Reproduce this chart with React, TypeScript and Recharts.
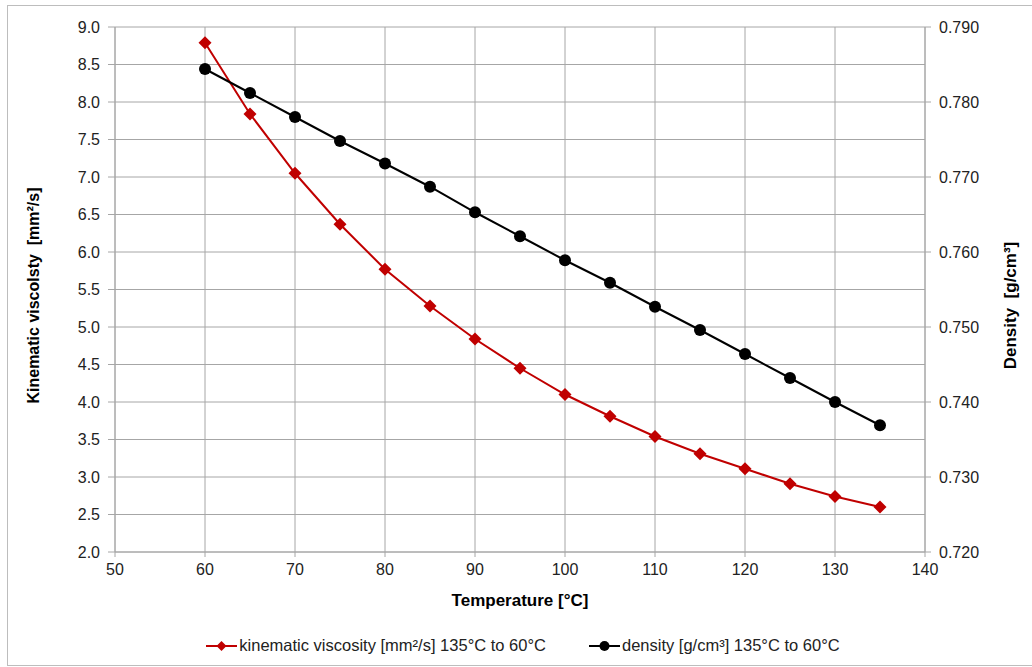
import React from "react";
import { CartesianGrid, Legend, Line, LineChart, XAxis, YAxis } from "recharts";

const temperatures = [60, 65, 70, 75, 80, 85, 90, 95, 100, 105, 110, 115, 120, 125, 130, 135];
const viscosity = [8.79, 7.84, 7.05, 6.37, 5.77, 5.28, 4.84, 4.45, 4.1, 3.81, 3.54, 3.31, 3.11, 2.91, 2.74, 2.6];
const density = [
  0.7844, 0.7812, 0.778, 0.7748, 0.7718, 0.7687, 0.7653, 0.7621, 0.7589, 0.7559, 0.7527, 0.7496, 0.7464, 0.7432,
  0.74, 0.7369,
];

const xTicks = [50, 60, 70, 80, 90, 100, 110, 120, 130, 140];
const leftTicks = [2, 2.5, 3, 3.5, 4, 4.5, 5, 5.5, 6, 6.5, 7, 7.5, 8, 8.5, 9];
const rightTicks = [0.72, 0.73, 0.74, 0.75, 0.76, 0.77, 0.78, 0.79];

const viscosityName = "kinematic viscosity [mm²/s] 135°C to 60°C";
const densityName = "density [g/cm³] 135°C to 60°C";

const data = temperatures.map((t, i) => ({ t, viscosity: viscosity[i], density: density[i] }));

const RED = "#c00000";
const GRID = "#a6a6a6";
const FONT = "'Liberation Sans', Arial, sans-serif";

function Diamond(props: any) {
  const { cx, cy } = props;
  if (cx == null || cy == null) return null;
  const r = 6.5;
  return <path d={`M${cx},${cy - r}L${cx + r},${cy}L${cx},${cy + r}L${cx - r},${cy}Z`} fill={RED} />;
}

function Circle(props: any) {
  const { cx, cy } = props;
  if (cx == null || cy == null) return null;
  return <circle cx={cx} cy={cy} r={6} fill="#000" />;
}

function VerticalTitle({ x, y, text, size }: { x: number; y: number; text: string; size: number }) {
  return (
    <text
      x={x}
      y={y}
      transform={`rotate(-90 ${x} ${y})`}
      textAnchor="middle"
      dominantBaseline="central"
      fontSize={size}
      fontWeight="bold"
      fill="#000"
      fontFamily={FONT}
      style={{ whiteSpace: "pre" }}
    >
      {text}
    </text>
  );
}

function LegendContent() {
  const item = (color: string, marker: "diamond" | "circle", label: string, gap: number) => (
    <span style={{ display: "inline-flex", alignItems: "center", marginRight: gap }}>
      <svg width={31} height={14} style={{ marginRight: 2 }}>
        <line x1={0} y1={7} x2={31} y2={7} stroke={color} strokeWidth={2} />
        {marker === "diamond" ? (
          <path d="M15.5,2L20.5,7L15.5,12L10.5,7Z" fill={color} />
        ) : (
          <circle cx={15.5} cy={7} r={5} fill={color} />
        )}
      </svg>
      <span>{label}</span>
    </span>
  );
  return (
    <div
      style={{
        display: "flex",
        justifyContent: "center",
        paddingLeft: 14,
        paddingTop: 7,
        fontFamily: FONT,
        fontSize: 16.5,
        color: "#222",
      }}
    >
      {item(RED, "diamond", viscosityName, 43)}
      {item("#000", "circle", densityName, 0)}
    </div>
  );
}

export default function App() {
  return (
    <div style={{ position: "absolute", left: 0, top: 0, width: 1032, height: 667, background: "#fff" }}>
      <div
        style={{
          position: "absolute",
          left: 7,
          top: 5,
          width: 1030,
          height: 659,
          border: "1px solid #bdbdbd",
        }}
      />
      <LineChart
        width={1032}
        height={667}
        data={data}
        margin={{ top: 27, right: 0, bottom: 0, left: 0 }}
        style={{ fontFamily: FONT }}
      >
        <CartesianGrid yAxisId="left" stroke={GRID} strokeWidth={1} />
        <XAxis
          dataKey="t"
          type="number"
          domain={[50, 140]}
          ticks={xTicks}
          height={77}
          tickSize={5}
          tickMargin={7}
          stroke={GRID}
          tick={{ fill: "#222", fontSize: 16 }}
          label={{
            value: "Temperature [°C]",
            position: "insideTop",
            offset: 42,
            fill: "#000",
            fontSize: 17,
            fontWeight: "bold",
          }}
        />
        <YAxis
          yAxisId="left"
          domain={[2, 9]}
          ticks={leftTicks}
          width={115}
          tickSize={7}
          tickMargin={8}
          stroke={GRID}
          tickFormatter={(v: number) => v.toFixed(1)}
          tick={{ fill: "#222", fontSize: 16 }}
          label={(p: any) => (
            <VerticalTitle
              x={33}
              y={p.viewBox.y + p.viewBox.height / 2 + 6}
              size={16}
              text="Kinematic viscolsty  [mm²/s]"
            />
          )}
        />
        <YAxis
          yAxisId="right"
          orientation="right"
          domain={[0.72, 0.79]}
          ticks={rightTicks}
          width={107}
          tickSize={6}
          tickMargin={8}
          stroke={GRID}
          tickFormatter={(v: number) => v.toFixed(3)}
          tick={{ fill: "#222", fontSize: 16 }}
          label={(p: any) => (
            <VerticalTitle
              x={1010}
              y={p.viewBox.y + p.viewBox.height / 2 + 16}
              size={17}
              text="Density  [g/cm³]"
            />
          )}
        />
        <Legend verticalAlign="bottom" height={38} content={<LegendContent />} />
        <Line
          yAxisId="left"
          dataKey="viscosity"
          name={viscosityName}
          stroke={RED}
          strokeWidth={2}
          dot={<Diamond />}
          activeDot={false}
          isAnimationActive={false}
        />
        <Line
          yAxisId="right"
          dataKey="density"
          name={densityName}
          stroke="#000"
          strokeWidth={2}
          dot={<Circle />}
          activeDot={false}
          isAnimationActive={false}
        />
      </LineChart>
    </div>
  );
}
